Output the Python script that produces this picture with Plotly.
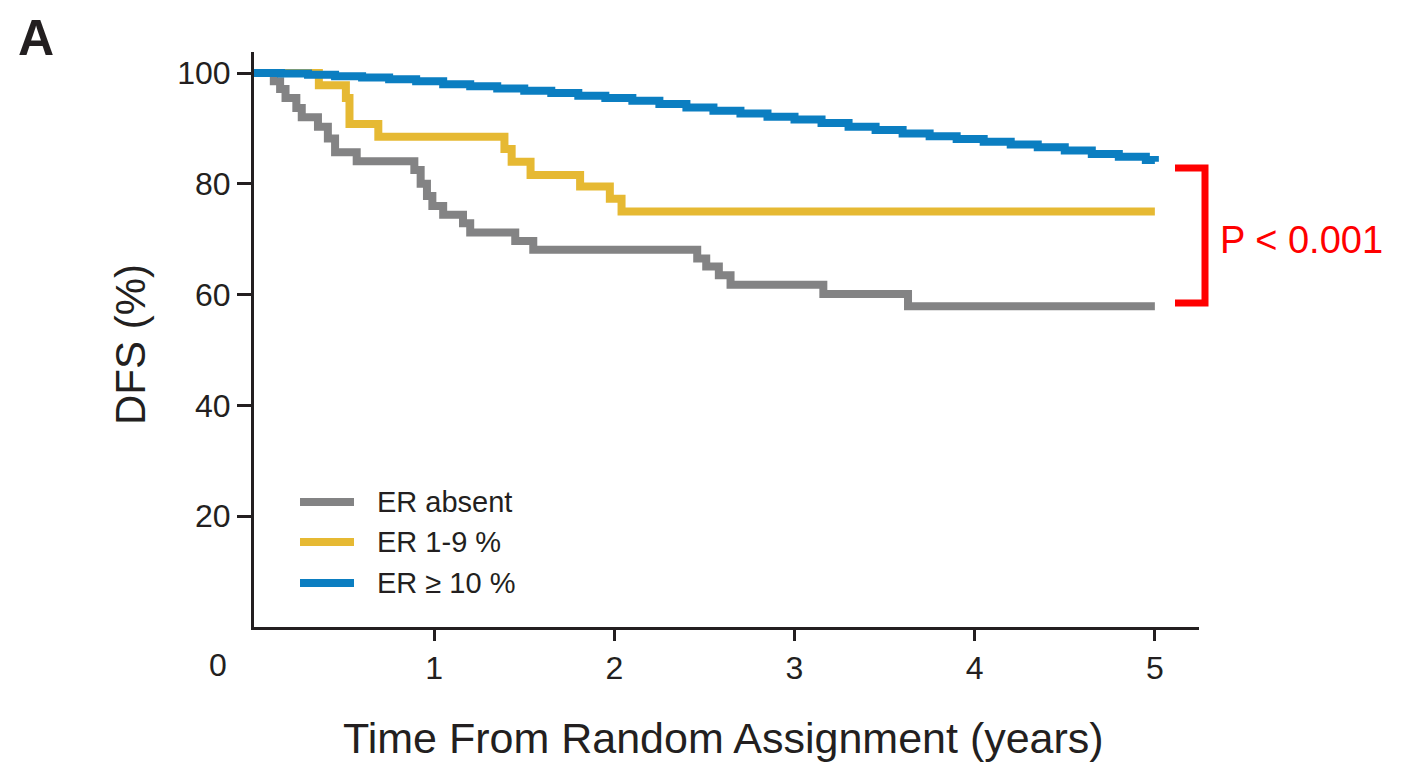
import plotly.graph_objects as go

# ---- data ----
gray_t = [0, 0.11, 0.145, 0.175, 0.235, 0.265, 0.355, 0.41, 0.45, 0.57, 0.89, 0.925, 0.96, 0.99,
          1.05, 1.16, 1.2, 1.45, 1.55, 2.46, 2.51, 2.58, 2.645, 3.16, 3.63, 5.0]
gray_s = [100, 98.5, 97.1, 95.5, 93.7, 92.0, 90.3, 88.2, 85.7, 84.1, 82.5, 80.0, 77.8, 76.0,
          74.4, 72.9, 71.2, 69.7, 68.1, 66.5, 65.1, 63.5, 61.8, 60.1, 57.9, 57.9]

yellow_t = [0, 0.36, 0.51, 0.53, 0.69, 1.39, 1.43, 1.535, 1.81, 1.975, 2.04, 5.0]
yellow_s = [100, 97.8, 95.5, 90.8, 88.5, 86.3, 84.0, 81.6, 79.5, 77.3, 75.0, 75.0]

blue_t = [0, 0.15, 0.3, 0.45, 0.6, 0.75, 0.9, 1.05, 1.2, 1.35, 1.5, 1.65, 1.8, 1.95, 2.1, 2.25,
          2.4, 2.55, 2.7, 2.85, 3.0, 3.15, 3.3, 3.45, 3.6, 3.75, 3.9, 4.05, 4.2, 4.35, 4.5, 4.65,
          4.8, 4.95, 5.0]
blue_s = [100, 99.9, 99.7, 99.4, 99.2, 98.9, 98.5, 98.0, 97.6, 97.2, 96.8, 96.4, 95.9, 95.5,
          95.0, 94.4, 93.8, 93.2, 92.7, 92.1, 91.6, 91.0, 90.3, 89.7, 89.1, 88.6, 88.1, 87.6,
          87.1, 86.6, 86.0, 85.4, 84.9, 84.3, 84.0]

series_names = ["ER absent", "ER 1-9 %", "ER \u2265 10 %"]
series_colors = ["#838384", "#E6B933", "#0B7EC1"]

x_ticks = [1, 2, 3, 4, 5]
y_ticks = [20, 40, 60, 80, 100]

INK = "#231f20"
FONT = "Liberation Sans"

fig = go.Figure()
for t, s, name, col in [(gray_t, gray_s, series_names[0], series_colors[0]),
                        (yellow_t, yellow_s, series_names[1], series_colors[1]),
                        (blue_t, blue_s, series_names[2], series_colors[2])]:
    fig.add_trace(go.Scatter(x=t, y=s, mode="lines", name=name,
                             line=dict(color=col, width=8, shape="hv"),
                             showlegend=False, hoverinfo="x+y+name"))

W, H = 1408, 765
L, R, T, B = 254, 209, 52, 138
pw, ph = W - L - R, H - T - B

def px(xp):
    return (xp - L) / pw

def py(yp):
    return (H - B - yp) / ph

fig.update_layout(
    width=W, height=H, autosize=False,
    margin=dict(l=L, r=R, t=T, b=B, pad=0),
    plot_bgcolor="white", paper_bgcolor="white",
    font=dict(family=FONT, color=INK),
    xaxis=dict(range=[0, 5.245], tickvals=x_ticks, ticktext=[str(v) for v in x_ticks],
               ticks="outside", ticklen=11, tickwidth=3, tickcolor=INK,
               showline=True, linewidth=3, linecolor=INK, showgrid=False, zeroline=False,
               tickfont=dict(size=32, color=INK, family=FONT)),
    yaxis=dict(range=[0, 103.8], tickvals=y_ticks, ticktext=[str(v) for v in y_ticks],
               ticks="outside", ticklen=14, tickwidth=3, tickcolor=INK,
               showline=True, linewidth=3, linecolor=INK, showgrid=False, zeroline=False,
               tickfont=dict(size=32, color=INK, family=FONT)),
)

ann = []
ann.append(dict(text="DFS (%)", x=px(130), y=py(345), xref="paper", yref="paper",
                textangle=-90, showarrow=False, font=dict(size=42, color=INK, family=FONT),
                xanchor="center", yanchor="middle"))
ann.append(dict(text="Time From Random Assignment (years)", x=px(723), y=py(738),
                xref="paper", yref="paper", showarrow=False,
                font=dict(size=43, color=INK, family=FONT), xanchor="center", yanchor="middle"))
ann.append(dict(text="0", x=px(218), y=py(665), xref="paper", yref="paper", showarrow=False,
                font=dict(size=32, color=INK, family=FONT), xanchor="center", yanchor="middle"))
ann.append(dict(text="<b>A</b>", x=px(36), y=py(38), xref="paper", yref="paper", showarrow=False,
                font=dict(size=50, color=INK, family=FONT), xanchor="center", yanchor="middle"))
ann.append(dict(text="P < 0.001", x=px(1218), y=py(240), xref="paper", yref="paper",
                showarrow=False, font=dict(size=38, color="#FF0000", family=FONT),
                xanchor="left", yanchor="middle"))

shapes = []
leg_y = [502, 542, 583]
for name, col, yy in zip(series_names, series_colors, leg_y):
    shapes.append(dict(type="line", xref="paper", yref="paper", x0=px(300), x1=px(354),
                       y0=py(yy), y1=py(yy), line=dict(color=col, width=8)))
    ann.append(dict(text=name, x=px(375), y=py(yy), xref="paper", yref="paper", showarrow=False,
                    font=dict(size=29, color=INK, family=FONT), xanchor="left", yanchor="middle"))

path = "M {a},{t} L {b},{t} L {b},{bo} L {a},{bo}".format(
    a=px(1175), b=px(1205), t=py(168), bo=py(303))
shapes.append(dict(type="path", path=path, xref="paper", yref="paper",
                   line=dict(color="#FF0000", width=7)))

fig.update_layout(annotations=ann, shapes=shapes)
fig.write_html("out.html")
